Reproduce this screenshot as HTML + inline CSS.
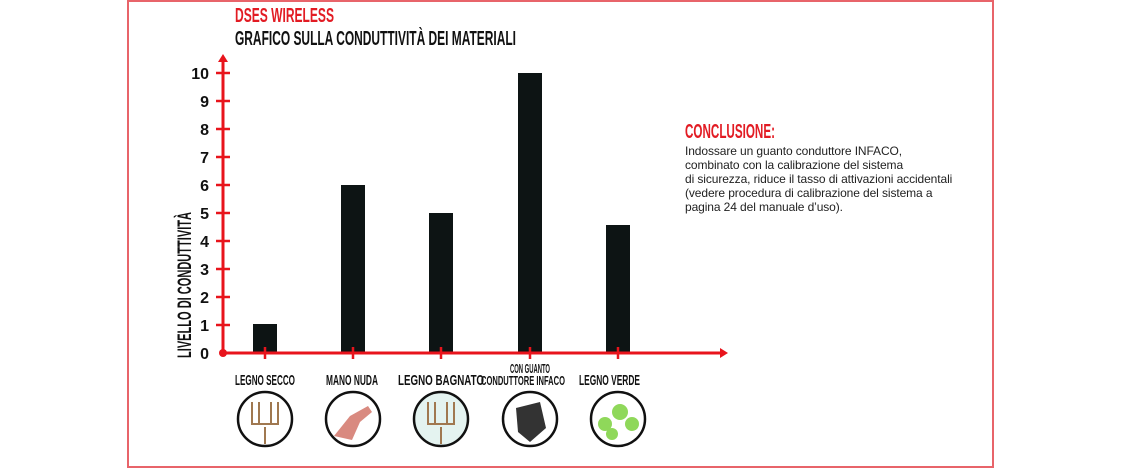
<!DOCTYPE html>
<html><head><meta charset="utf-8"><style>
body{margin:0;background:#fff;width:1140px;height:468px;overflow:hidden;position:relative;font-family:"Liberation Sans",sans-serif}
</style></head><body>
<div style="position:absolute;left:127px;top:0;width:863px;height:464px;border:2px solid #e8646a"></div>
<svg width="1140" height="468" style="position:absolute;left:0;top:0">
<g font-family="Liberation Sans,sans-serif" font-weight="bold">
<text x="235" y="22" font-size="20" fill="#e21b23" textLength="99" lengthAdjust="spacingAndGlyphs">DSES WIRELESS</text>
<text x="235" y="45" font-size="20" fill="#111" textLength="281" lengthAdjust="spacingAndGlyphs">GRAFICO SULLA CONDUTTIVITÀ DEI MATERIALI</text>
<text x="685" y="138" font-size="20" fill="#e21b23" textLength="90" lengthAdjust="spacingAndGlyphs">CONCLUSIONE:</text>
<text transform="translate(191,358) rotate(-90)" font-size="19" fill="#111" textLength="146" lengthAdjust="spacingAndGlyphs">LIVELLO DI CONDUTTIVITÀ</text>
</g>
<g fill="#0d1414">
<rect x="253" y="324" width="24" height="29"/>
<rect x="341" y="185" width="24" height="168"/>
<rect x="429" y="213" width="24" height="140"/>
<rect x="518" y="73" width="24" height="280"/>
<rect x="606" y="225" width="24" height="128"/>
</g>
<g stroke="#e8141c" stroke-width="3" fill="#e8141c">
<line x1="223" y1="60" x2="223" y2="353"/>
<line x1="223" y1="353" x2="722" y2="353"/>
<polygon points="223,54 218,62 228,62" stroke-width="0"/>
<polygon points="728,353 720,348 720,358" stroke-width="0"/>
<circle cx="223" cy="353" r="4" stroke-width="0"/>
<g stroke-width="2.5">
<line x1="216" y1="73" x2="230" y2="73"/><line x1="216" y1="101" x2="230" y2="101"/><line x1="216" y1="129" x2="230" y2="129"/><line x1="216" y1="157" x2="230" y2="157"/><line x1="216" y1="185" x2="230" y2="185"/><line x1="216" y1="213" x2="230" y2="213"/><line x1="216" y1="241" x2="230" y2="241"/><line x1="216" y1="269" x2="230" y2="269"/><line x1="216" y1="297" x2="230" y2="297"/><line x1="216" y1="325" x2="230" y2="325"/>
<line x1="265" y1="347" x2="265" y2="359"/><line x1="353" y1="347" x2="353" y2="359"/><line x1="441" y1="347" x2="441" y2="359"/><line x1="530" y1="347" x2="530" y2="359"/><line x1="618" y1="347" x2="618" y2="359"/>
</g></g>
<g font-family="Liberation Sans,sans-serif" font-weight="bold" font-size="16" fill="#111" text-anchor="end">
<text x="209" y="79">10</text><text x="209" y="107">9</text><text x="209" y="135">8</text><text x="209" y="163">7</text><text x="209" y="191">6</text><text x="209" y="219">5</text><text x="209" y="247">4</text><text x="209" y="275">3</text><text x="209" y="303">2</text><text x="209" y="331">1</text><text x="209" y="359">0</text>
</g>
<g font-family="Liberation Sans,sans-serif" font-weight="bold" font-size="15" fill="#111">
<text x="235" y="385" textLength="60" lengthAdjust="spacingAndGlyphs">LEGNO SECCO</text>
<text x="326" y="385" textLength="52" lengthAdjust="spacingAndGlyphs">MANO NUDA</text>
<text x="398" y="385" textLength="86" lengthAdjust="spacingAndGlyphs">LEGNO BAGNATO</text>
<text x="510" y="373" font-size="13" textLength="40" lengthAdjust="spacingAndGlyphs">CON GUANTO</text>
<text x="481" y="385" font-size="13" textLength="84" lengthAdjust="spacingAndGlyphs">CONDUTTORE INFACO</text>
<text x="579" y="385" textLength="61" lengthAdjust="spacingAndGlyphs">LEGNO VERDE</text>
</g>
<g stroke="#111" stroke-width="2.5">
<circle cx="265" cy="419" r="27" fill="#fff"/>
<circle cx="353" cy="419" r="27" fill="#fff"/>
<circle cx="441" cy="419" r="27" fill="#e4f3f0"/>
<circle cx="530" cy="419" r="27" fill="#fff"/>
<circle cx="618" cy="419" r="27" fill="#fff"/>
</g>
<g stroke="#a07850" stroke-width="2" fill="none">
<path d="M265 444 L265 427 M252 402 L252 424 L278 424 L278 402 M259 402 L259 424 M271 402 L271 424"/>
<path d="M441 444 L441 427 M428 402 L428 424 L454 424 L454 402 M435 402 L435 424 M447 402 L447 424"/>
</g>
<path d="M334 436 L350 416 L368 406 L372 412 L360 422 L352 440 Z" fill="#d98a80"/>
<path d="M516 408 L540 402 L546 428 L530 442 L518 432 Z" fill="#333"/>
<g fill="#8fd85a"><circle cx="605" cy="424" r="7"/><circle cx="620" cy="412" r="8"/><circle cx="632" cy="424" r="7"/><circle cx="612" cy="434" r="6"/></g>
</svg>
<div style="position:absolute;left:685px;top:144px;font-size:12px;line-height:14px;color:#222;letter-spacing:-0.1px">Indossare un guanto conduttore INFACO,<br>combinato con la calibrazione del sistema<br>di sicurezza, riduce il tasso di attivazioni accidentali<br>(vedere procedura di calibrazione del sistema a<br>pagina 24 del manuale d’uso).</div>
</body></html>
